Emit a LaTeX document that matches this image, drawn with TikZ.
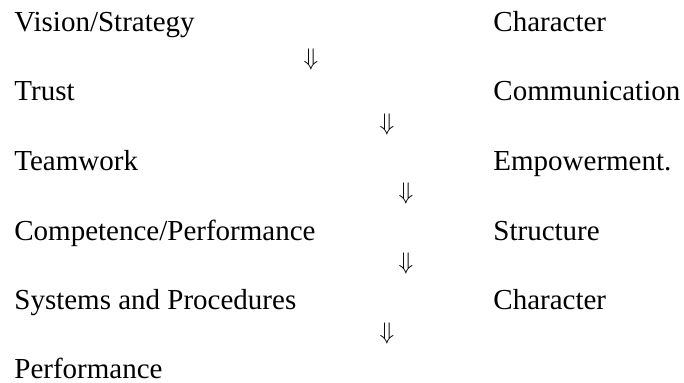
\documentclass[tikz,border=0pt]{standalone}
\usepackage{fontspec}
\setmainfont{Liberation Serif}
\usetikzlibrary{positioning}

\begin{document}
\begin{tikzpicture}[
  x=0.5pt, y=-0.5pt,
  lbl/.style={inner sep=0pt, anchor=base west, font=\fontsize{14.5}{17}\selectfont},
  dn/.style={inner sep=0pt, anchor=center, font=\fontsize{12.5}{15}\selectfont}]
\useasboundingbox (0,0) rectangle (684,383);
% left column
\node[lbl] (l1) at (14,32) {Vision/Strategy};
\node[lbl] (l2) at (14,101) {Trust};
\node[lbl] (l3) at (14,171) {Teamwork};
\node[lbl] (l4) at (14,241) {Competence/Performance};
\node[lbl] (l5) at (14,310) {Systems and Procedures};
\node[lbl] (l6) at (14,379) {Performance};
% right column
\node[lbl] (r1) at (493,32) {Character};
\node[lbl] (r2) at (493,101) {Communication};
\node[lbl] (r3) at (493,171) {Empowerment.};
\node[lbl] (r4) at (493,241) {Structure};
\node[lbl] (r5) at (493,310) {Character};
% down arrows
\node[dn] (d1) at (311,60) {$\Downarrow$};
\node[dn] (d2) at (387,125) {$\Downarrow$};
\node[dn] (d3) at (406,194) {$\Downarrow$};
\node[dn] (d4) at (406,264) {$\Downarrow$};
\node[dn] (d5) at (387,334) {$\Downarrow$};
\end{tikzpicture}
\end{document}
